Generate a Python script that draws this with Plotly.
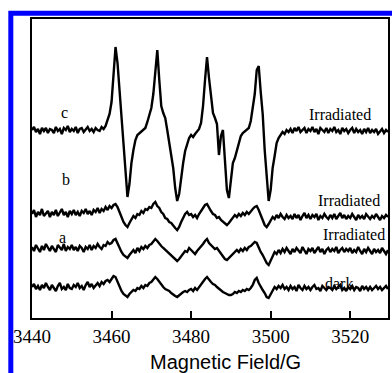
import numpy as np
import plotly.graph_objects as go

# Magnetic field grid (G), 0.5 G sampling
FIELD = np.arange(3440, 3530, 0.5)

# Spectrum c (Irradiated) - intensity (arbitrary, offset)
spec_c = [
    188,191,186,189,184,190,187,190,185,189,
    188,185,191,187,189,184,190,188,192,186,
    189,187,191,185,189,190,186,188,191,187,
    189,186,190,188,187,191,189,192,197,204,
    216,242,271,255,227,200,172,144,121,134,
    155,168,178,183,185,186,188,190,196,204,
    210,224,250,268,238,212,205,200,188,176,
    165,150,130,117,124,142,155,167,174,180,
    183,181,184,186,189,195,212,238,261,240,
    222,205,200,194,163,182,188,158,128,120,
    140,155,160,168,175,182,185,187,188,190,
    197,210,224,248,252,226,204,168,140,117,
    128,150,162,175,180,183,186,184,188,186,
    189,185,190,187,191,186,188,190,185,189,
    187,191,186,189,184,190,188,186,190,185,
    189,187,191,186,188,184,190,187,189,185,
    188,190,185,189,186,188,184,189,186,190,
    185,188,186,189,184,187,189,185,188,186,
]

# Spectrum b (Irradiated)
spec_b = [
    104,108,101,106,103,109,102,105,107,101,
    106,103,108,102,105,109,103,106,101,107,
    104,108,103,106,102,107,105,109,104,107,
    103,108,106,110,105,109,107,111,108,112,
    110,113,114,111,106,100,96,93,91,95,
    98,102,100,104,103,107,105,109,108,111,
    110,114,116,112,110,106,104,100,99,96,
    95,92,90,88,91,96,100,104,106,103,
    104,101,103,100,104,107,109,113,114,110,
    107,104,103,100,101,98,96,94,93,95,
    98,101,103,101,104,102,105,103,106,104,
    107,109,111,112,108,102,98,93,91,94,
    98,101,99,103,100,104,101,99,103,100,
    102,99,104,100,103,98,102,105,100,103,
    99,103,101,104,98,102,100,104,101,99,
    103,100,104,99,102,105,100,103,99,102,
    100,104,101,98,103,100,102,99,104,101,
    99,102,100,104,101,98,102,100,103,101,
]

# Spectrum a (Irradiated)
spec_a = [
    71,67,73,69,66,72,68,74,70,67,
    72,69,66,73,70,68,74,67,71,69,
    73,68,71,67,72,70,66,71,69,73,
    68,72,70,74,71,69,73,72,76,74,
    75,78,79,74,70,66,63,61,60,63,
    66,68,65,70,67,71,69,72,70,73,
    74,76,79,77,74,72,70,68,66,65,
    62,60,58,57,59,62,64,67,66,70,
    68,66,64,67,69,72,74,77,79,75,
    73,71,69,70,67,64,62,59,58,60,
    63,65,66,68,66,69,67,70,68,71,
    72,74,76,75,70,66,63,59,55,53,
    57,62,66,64,68,65,69,66,70,67,
    64,69,66,70,67,65,71,68,64,69,
    67,70,65,68,71,66,69,64,68,70,
    66,69,67,71,65,68,70,66,69,67,
    70,65,68,66,71,67,64,69,66,70,
    67,64,69,66,68,65,70,67,64,68,
]

# Spectrum dark
spec_dark = [
    31,34,29,32,28,33,30,35,31,28,
    33,30,27,32,35,29,31,28,34,30,
    29,33,31,35,30,32,28,33,36,31,
    34,30,33,35,32,36,34,37,38,36,
    39,42,41,36,32,27,24,22,21,24,
    26,28,27,30,29,32,30,33,32,35,
    36,38,41,39,36,33,31,29,28,27,
    25,23,22,21,23,24,26,27,26,28,
    29,27,30,28,31,33,36,39,41,38,
    36,34,33,31,29,27,26,25,24,23,
    23,24,26,25,27,26,28,27,29,28,
    30,33,38,40,35,31,28,25,21,20,
    24,28,31,29,32,30,33,29,31,28,
    32,29,31,27,33,30,28,32,29,31,
    28,31,33,29,30,27,32,30,28,31,
    30,28,32,29,31,33,28,30,27,31,
    29,32,28,31,30,27,32,29,31,28,
    31,28,30,32,29,31,28,30,32,29,
]

TICKS = [3440, 3460, 3480, 3500, 3520]
SERIES = [spec_c, spec_b, spec_a, spec_dark]

fig = go.Figure()
for s in SERIES:
    fig.add_trace(go.Scatter(x=FIELD, y=s, mode="lines",
                             line=dict(color="black", width=2.4),
                             showlegend=False, hoverinfo="skip"))

serif = "Liberation Serif, Times New Roman, serif"
labels = [
    ("c", 3448.25, 206), ("b", 3448.5, 139), ("a", 3447.75, 81),
    ("Irradiated", 3517.4, 204), ("Irradiated", 3519.6, 118),
    ("Irradiated", 3520.9, 84), ("dark", 3517.1, 35),
]
for t, x, y in labels:
    fig.add_annotation(x=x, y=y, xref="x", yref="y", text=t, showarrow=False,
                       font=dict(family=serif, size=16, color="black"),
                       xanchor="center", yanchor="middle")

fig.add_annotation(x=0.5447, y=-0.147, xref="paper", yref="paper",
                   text="Magnetic Field/G", showarrow=False,
                   font=dict(family="Liberation Sans, Arial, sans-serif", size=20, color="black"),
                   xanchor="center", yanchor="middle")

# blue outer frame
fig.add_shape(type="rect", xref="paper", yref="paper",
              x0=-0.0595, x1=1.03, y0=-0.3, y1=1.019,
              line=dict(color="#0000FF", width=5), fillcolor="rgba(0,0,0,0)")

fig.update_layout(
    width=392, height=373,
    margin=dict(l=32, r=2, t=19, b=55),
    paper_bgcolor="white", plot_bgcolor="white",
    xaxis=dict(range=[3440, 3529.5], tickvals=TICKS, ticktext=[str(t) for t in TICKS],
               ticks="inside", ticklen=7, tickwidth=2, tickcolor="black",
               showline=True, linewidth=2, linecolor="black", mirror=True,
               showgrid=False, zeroline=False,
               tickfont=dict(family=serif, size=19, color="black")),
    yaxis=dict(range=[0, 299], showticklabels=False, ticks="",
               showline=True, linewidth=2, linecolor="black", mirror=True,
               showgrid=False, zeroline=False),
)

fig.write_html("out.html", config={"displayModeBar": False},
               post_script="document.body.style.margin='0px';document.body.style.overflow='hidden';")
